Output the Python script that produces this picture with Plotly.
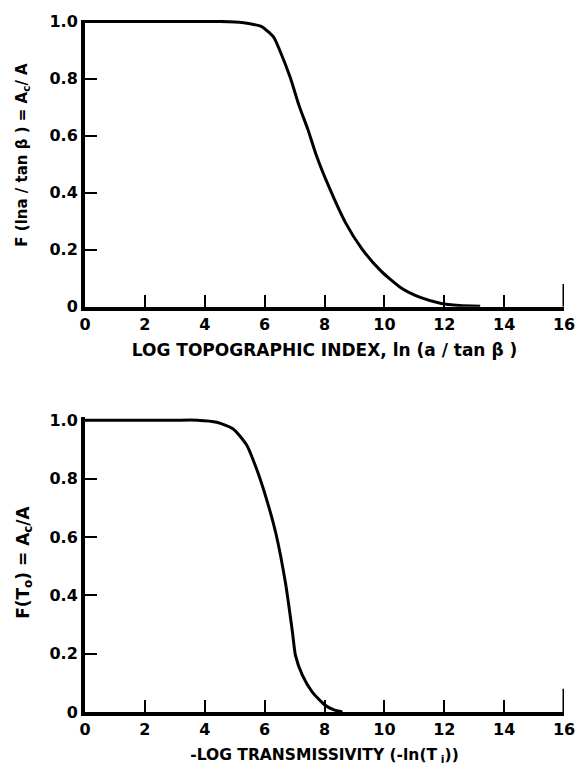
import plotly.graph_objects as go

# Top panel: cumulative distribution of ln(a / tan beta)
topo_x = [0, 1, 2, 3, 4, 4.5, 5.0, 5.3, 5.6, 5.9, 6.3, 6.5, 6.85, 7.15, 7.45, 7.72,
          8.15, 8.7, 9.25, 9.9, 10.55, 11.2, 11.9, 12.5, 13.2]
topo_y = [1, 1, 1, 1, 1, 1, 0.998, 0.995, 0.99, 0.982, 0.945, 0.9, 0.805, 0.705, 0.62,
          0.533, 0.42, 0.295, 0.203, 0.124, 0.067, 0.033, 0.012, 0.005, 0.002]

# Bottom panel: cumulative distribution of -ln(T)
trans_x = [0, 1, 2, 3, 3.75, 4.4, 4.95, 5.4, 5.72, 6.05, 6.38, 6.7, 6.93, 7.03, 7.26,
           7.58, 8.0, 8.3, 8.6]
trans_y = [1, 1, 1, 1, 1, 0.993, 0.97, 0.915, 0.836, 0.734, 0.61, 0.44, 0.273, 0.194,
           0.126, 0.07, 0.025, 0.008, 0]

x_ticks = [0, 2, 4, 6, 8, 10, 12, 14, 16]
y_ticks = [0, 0.2, 0.4, 0.6, 0.8, 1.0]
y_ticktext = ["0", "0.2", "0.4", "0.6", "0.8", "1.0"]

top_xtitle = "LOG TOPOGRAPHIC INDEX, ln (a / tan \u03b2 )"
top_ytitle = "F (lna / tan \u03b2 ) = A<sub>c</sub>/ A"
bot_xtitle = "-LOG TRANSMISSIVITY (-ln(T<sub> i</sub>))"
bot_ytitle = "F(T<sub>o</sub>) = A<sub>c</sub>/A"

def bold(size):
    return dict(family="DejaVu Sans", size=size, color="black", weight="bold")

FONT = bold(16)

fig = go.Figure()
fig.add_trace(go.Scatter(x=topo_x, y=topo_y, mode="lines", xaxis="x", yaxis="y",
                         line=dict(color="black", width=3, shape="spline", smoothing=0.6),
                         showlegend=False, cliponaxis=False))
fig.add_trace(go.Scatter(x=trans_x, y=trans_y, mode="lines", xaxis="x2", yaxis="y2",
                         line=dict(color="black", width=3, shape="spline", smoothing=0.6),
                         showlegend=False, cliponaxis=False))

def xax(anchor, title, tsize):
    return dict(anchor=anchor, range=[0, 16], tickvals=x_ticks, ticks="inside",
                ticklen=12, tickwidth=2, tickcolor="black", showline=True,
                linewidth=4, linecolor="black", showgrid=False, zeroline=False,
                tickfont=FONT, ticklabeloverflow="allow",
                title=dict(text=title, standoff=12, font=bold(tsize)))

def yax(anchor, domain, rng):
    return dict(anchor=anchor, domain=domain, range=rng, tickvals=y_ticks,
                ticktext=y_ticktext, ticks="inside", ticklen=12, tickwidth=2,
                tickcolor="black", showline=True, linewidth=4, linecolor="black",
                showgrid=False, zeroline=False, tickfont=FONT,
                ticklabeloverflow="allow")

fig.update_layout(
    width=571, height=758,
    margin=dict(l=77, r=9, t=4, b=52),
    paper_bgcolor="white", plot_bgcolor="white",
    xaxis=xax("y", top_xtitle, 17),
    yaxis=yax("x", [0.5855, 1.0], [0, 1.005]),
    xaxis2=xax("y2", bot_xtitle, 15.5),
    yaxis2=yax("x2", [0.0, 0.4259], [0, 1.01]),
)

# rotated y-axis titles
fig.add_annotation(text=top_ytitle, xref="paper", yref="paper", x=-0.13, y=0.805,
                   xanchor="center", yanchor="middle", textangle=-90,
                   showarrow=False, font=bold(15))
fig.add_annotation(text=bot_ytitle, xref="paper", yref="paper", x=-0.128, y=0.2165,
                   xanchor="center", yanchor="middle", textangle=-90,
                   showarrow=False, font=bold(17))

# taller end tick at x = 16 on each panel
for xr, yr in (("x", "y"), ("x2", "y2")):
    fig.add_shape(type="line", xref=xr, yref=yr, x0=16, x1=16, y0=0, y1=0.08,
                  line=dict(color="black", width=3))

fig.write_html("out.html")
